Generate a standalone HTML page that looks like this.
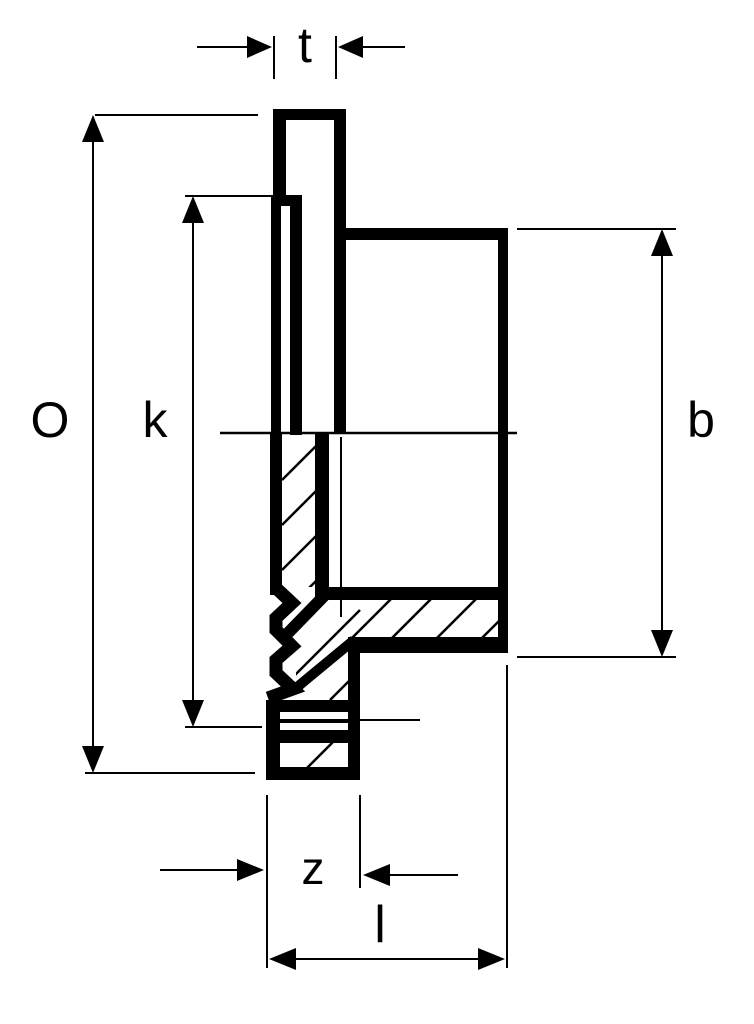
<!DOCTYPE html>
<html><head><meta charset="utf-8"><style>
html,body{margin:0;padding:0;background:#fff;}
svg{display:block}
text{font-family:"Liberation Sans",sans-serif;fill:#000}
</style></head><body>
<svg width="754" height="1024" viewBox="0 0 754 1024" xmlns="http://www.w3.org/2000/svg">
<defs>
<clipPath id="c1"><rect x="282" y="437" width="33" height="150"/></clipPath>
<clipPath id="c2"><polygon points="329,600 498,600 498,637 350,637 350,700 296,700 296,610"/></clipPath>
<clipPath id="c3"><rect x="280" y="743" width="69" height="24"/></clipPath>
</defs>
<g fill="#000" stroke="none">
<rect x="273" y="109" width="13" height="90"/>
<rect x="273" y="109" width="73" height="11"/>
<rect x="334" y="109" width="12" height="324"/>
<rect x="271" y="195" width="31" height="11"/>
<rect x="271" y="195" width="10" height="240"/>
<rect x="290" y="195" width="12" height="240"/>
<rect x="334" y="228" width="174" height="12"/>
<rect x="498" y="228" width="10" height="425"/>
<rect x="270" y="433" width="12" height="162"/>
<rect x="315" y="433" width="14" height="167"/>
<rect x="315" y="587" width="193" height="13"/>
<rect x="350" y="637" width="158" height="16"/>
<rect x="348" y="637" width="12" height="143"/>
<rect x="266" y="700" width="94" height="12"/>
<rect x="266" y="700" width="14" height="80"/>
<rect x="266" y="767" width="94" height="13"/>
<rect x="280" y="719" width="69" height="4"/>
<rect x="280" y="730" width="69" height="13"/>
</g>
<g stroke="#000" fill="none">
<line x1="341" y1="437" x2="341" y2="617" stroke-width="2"/>
<line x1="220" y1="433" x2="517" y2="433" stroke-width="2.5"/>
<g stroke-width="2.5" clip-path="url(#c1)">
<line x1="282" y1="480" x2="320" y2="442"/><line x1="282" y1="525" x2="320" y2="487"/><line x1="282" y1="570" x2="320" y2="532"/><line x1="282" y1="615" x2="320" y2="577"/>
</g>
<g stroke-width="2.5" clip-path="url(#c2)">
<line x1="300" y1="690" x2="400" y2="590"/><line x1="330" y1="700" x2="450" y2="580"/><line x1="400" y1="675" x2="490" y2="585"/><line x1="450" y1="670" x2="540" y2="580"/><line x1="490" y1="675" x2="540" y2="625"/><line x1="280" y1="690" x2="360" y2="610"/>
</g>
<polyline points="276,588 292,603 276,618 276,630 292,646 276,660 276,673 293,689 268,698" stroke-width="13" stroke-linejoin="miter"/>
<line x1="324" y1="596" x2="288" y2="633" stroke-width="12"/>
<line x1="354" y1="640" x2="296" y2="688" stroke-width="10"/>
<g stroke-width="2.5" clip-path="url(#c3)">
<line x1="300" y1="775" x2="335" y2="740"/>
</g>
<line x1="360" y1="720" x2="420" y2="720" stroke-width="2"/>
<g stroke-width="2">
<line x1="197" y1="47" x2="250" y2="47"/><line x1="274" y1="36" x2="274" y2="79"/>
<line x1="336" y1="36" x2="336" y2="79"/><line x1="360" y1="47" x2="405" y2="47"/>
<line x1="95" y1="115" x2="258" y2="115"/><line x1="85" y1="773" x2="255" y2="773"/>
<line x1="93" y1="140" x2="93" y2="748"/>
<line x1="185" y1="196" x2="272" y2="196"/><line x1="185" y1="727" x2="262" y2="727"/>
<line x1="193" y1="220" x2="193" y2="703"/>
<line x1="517" y1="229" x2="676" y2="229"/><line x1="517" y1="657" x2="676" y2="657"/>
<line x1="662" y1="253" x2="662" y2="633"/>
<line x1="267" y1="795" x2="267" y2="968"/><line x1="360" y1="795" x2="360" y2="888"/>
<line x1="160" y1="870" x2="240" y2="870"/><line x1="385" y1="875" x2="458" y2="875"/>
<line x1="507" y1="665" x2="507" y2="968"/>
<line x1="290" y1="959" x2="485" y2="959"/>
</g>
</g>
<g fill="#000">
<polygon points="272,47 247,36 247,58"/>
<polygon points="338,47 363,36 363,58"/>
<polygon points="93,115 82,142 104,142"/>
<polygon points="93,773 82,746 104,746"/>
<polygon points="193,196 182,223 204,223"/>
<polygon points="193,727 182,700 204,700"/>
<polygon points="662,229 651,256 673,256"/>
<polygon points="662,657 651,630 673,630"/>
<polygon points="264,870 237,859 237,881"/>
<polygon points="363,875 390,864 390,886"/>
<polygon points="269,959 296,948 296,970"/>
<polygon points="505,959 478,948 478,970"/>
</g>
<text x="305" y="62" font-size="50" text-anchor="middle">t</text>
<text x="50" y="437" font-size="50" text-anchor="middle">O</text>
<text x="155" y="437" font-size="50" text-anchor="middle">k</text>
<text x="701" y="437" font-size="50" text-anchor="middle">b</text>
<text x="313" y="884" font-size="46" text-anchor="middle">z</text>
<text x="380" y="942" font-size="52" text-anchor="middle">l</text>
</svg>
</body></html>
